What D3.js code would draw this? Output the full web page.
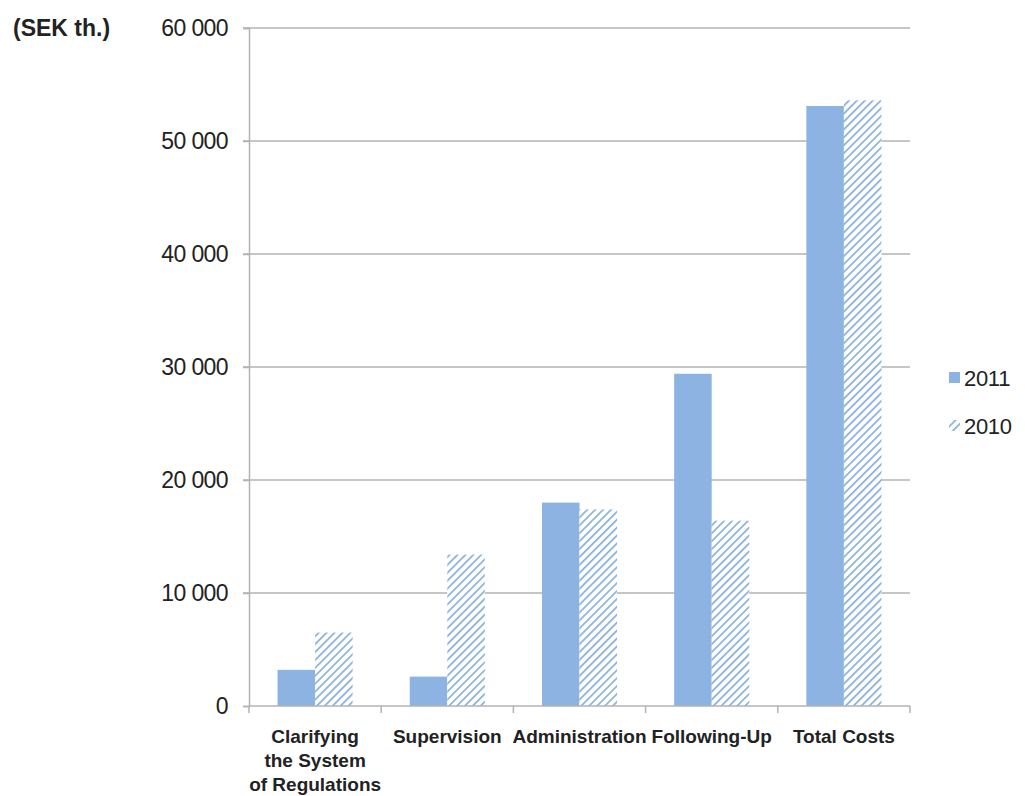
<!DOCTYPE html>
<html>
<head>
<meta charset="utf-8">
<script src="https://cdn.jsdelivr.net/npm/d3@7"></script>
<style>
  html, body { margin: 0; padding: 0; background: #fff; }
  svg { display: block; font-family: "Liberation Sans", Arial, sans-serif; }
</style>
</head>
<body>
<svg id="chart" width="1025" height="796"></svg>
<script>
// Costs per activity area, SEK thousands
const categories = [
  ["Clarifying", "the System", "of Regulations"],
  ["Supervision"],
  ["Administration"],
  ["Following-Up"],
  ["Total Costs"]
];
const seriesNames = ["2011", "2010"];
const values2011 = [3200, 2600, 18000, 29400, 53100];
const values2010 = [6500, 13400, 17400, 16400, 53600];
const yTicks = [0, 10000, 20000, 30000, 40000, 50000, 60000];
const unitLabel = "(SEK th.)";

const blue = "#8db3e2";
const gridColor = "#b3b3b3";

const svg = d3.select("#chart");
const margin = { left: 249, right: 115, top: 28, bottom: 90 };
const W = 1025, H = 796;
const plotW = W - margin.left - margin.right;
const plotH = H - margin.top - margin.bottom;

// hatched fill for the 2010 series
const defs = svg.append("defs");
const pat = defs.append("pattern")
  .attr("id", "hatch")
  .attr("patternUnits", "userSpaceOnUse")
  .attr("width", 5.6).attr("height", 5.6)
  .attr("patternTransform", "rotate(45)");
pat.append("rect").attr("width", 5.6).attr("height", 5.6).attr("fill", "#fff");
pat.append("line")
  .attr("x1", 0).attr("y1", 0).attr("x2", 0).attr("y2", 5.6)
  .attr("stroke", "#88afdf").attr("stroke-width", 3.4);

const keys = categories.map((c, i) => "c" + i);
const x0 = d3.scaleBand().domain(keys).range([0, plotW]).padding(0);
const x1 = d3.scaleBand().domain(seriesNames).range([0, x0.bandwidth()])
  .paddingInner(0).paddingOuter(0.76);
const y = d3.scaleLinear().domain([0, 60000]).range([plotH, 0]);

const g = svg.append("g").attr("transform", `translate(${margin.left},${margin.top})`);

// gridlines
g.append("g")
  .selectAll("line")
  .data(yTicks.filter(d => d > 0))
  .join("line")
  .attr("x1", -6).attr("x2", plotW)
  .attr("y1", d => y(d)).attr("y2", d => y(d))
  .attr("stroke", gridColor).attr("stroke-width", 1.5);

// y axis, thousands separated by a space
const fmt = d => d3.format(",")(d).replace(/,/g, " ");
const yAxis = g.append("g")
  .call(d3.axisLeft(y).tickValues(yTicks).tickSize(6).tickPadding(15)
    .tickFormat(fmt));
yAxis.select(".domain").attr("stroke", gridColor).attr("stroke-width", 1.5);
yAxis.selectAll(".tick line").attr("stroke", gridColor).attr("stroke-width", 1.5);
yAxis.selectAll(".tick text")
  .attr("fill", "#222").style("font-size", "23px").attr("letter-spacing", "-0.6px");

// bars
const rows = keys.map((k, i) => ({ key: k, vals: [
  { s: "2011", v: values2011[i] },
  { s: "2010", v: values2010[i] }
]}));
g.append("g")
  .selectAll("g")
  .data(rows)
  .join("g")
  .attr("transform", d => `translate(${x0(d.key)},0)`)
  .selectAll("rect")
  .data(d => d.vals)
  .join("rect")
  .attr("x", d => x1(d.s))
  .attr("width", x1.bandwidth())
  .attr("y", d => y(d.v))
  .attr("height", d => y(0) - y(d.v))
  .attr("fill", d => d.s === "2011" ? blue : "url(#hatch)");

// x axis
const xAxis = g.append("g").attr("transform", `translate(0,${plotH})`);
xAxis.append("line")
  .attr("x1", 0).attr("x2", plotW)
  .attr("stroke", gridColor).attr("stroke-width", 1.5);
xAxis.selectAll("line.tk")
  .data(d3.range(keys.length + 1))
  .join("line").attr("class", "tk")
  .attr("x1", i => i * x0.step()).attr("x2", i => i * x0.step())
  .attr("y1", 0).attr("y2", 7)
  .attr("stroke", gridColor).attr("stroke-width", 1.5);
xAxis.selectAll("text")
  .data(categories.map((c, i) => ({ lines: c, key: keys[i] })))
  .join("text")
  .attr("text-anchor", "middle")
  .attr("fill", "#222")
  .style("font-size", "19px").style("font-weight", "bold")
  .attr("transform", d => `translate(${x0(d.key) + x0.bandwidth() / 2},37)`)
  .selectAll("tspan")
  .data(d => d.lines)
  .join("tspan")
  .attr("x", 0)
  .attr("dy", (d, i) => i === 0 ? 0 : 24)
  .text(d => d);

// unit label
svg.append("text")
  .attr("x", 13).attr("y", 36)
  .attr("fill", "#222")
  .style("font-size", "23px").style("font-weight", "bold")
  .text(unitLabel);

// legend
const legend = svg.append("g").attr("transform", "translate(949,378)");
seriesNames.forEach((s, i) => {
  const ly = i * 48;
  legend.append("rect")
    .attr("x", 0).attr("y", ly - 6).attr("width", 11).attr("height", 11)
    .attr("fill", s === "2011" ? blue : "url(#hatch)");
  legend.append("text")
    .attr("x", 15).attr("y", ly + 8)
    .attr("fill", "#222").style("font-size", "22px").attr("letter-spacing", "-0.3px")
    .text(s);
});
</script>
</body>
</html>
